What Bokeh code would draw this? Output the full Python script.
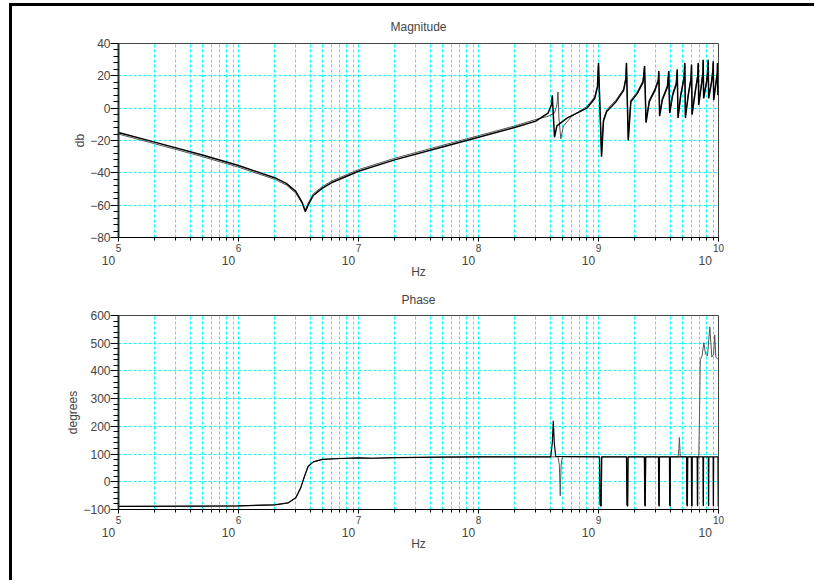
from bokeh.plotting import figure
from bokeh.models import FixedTicker, Range1d, LogAxis
from bokeh.layouts import column
from bokeh.embed import file_html
from bokeh.resources import INLINE

FONT = "Liberation Sans"
NB = "\u00a0"

# ---- x axis (log, Hz) ----
decades = [1e5, 1e6, 1e7, 1e8, 1e9, 1e10]
decade_exps = ["5", "6", "7", "8", "9", "10"]
decade_base = ["10", "10", "10", "10", "10", "10"]
minor_mult = [2, 3, 4, 5, 6, 7, 8, 9]

# ---- magnitude ticks ----
mag_yticks = [-80, -60, -40, -20, 0, 20, 40]
mag_ylabels = ["\u221280", "\u221260", "\u221240", "\u221220", "0", "20", "40"]

# ---- phase ticks ----
ph_yticks = [-100, 0, 100, 200, 300, 400, 500, 600]
ph_ylabels = ["\u2212100", "0", "100", "200", "300", "400", "500", "600"]

# ---- magnitude series A (dB) ----
mag_a_f = [1e5, 2e5, 5e5, 1e6, 2e6, 2.5e6, 3.0e6, 3.4e6, 3.6e6, 3.8e6, 4.2e6, 5e6, 6e6, 1e7, 2e7,
           5e7, 1e8, 2e8, 3e8, 3.8e8, 4.05e8, 4.12e8, 4.2e8, 4.3e8, 4.5e8, 5.5e8, 8e8,
           9.3e8, 9.8e8, 1.0e9, 1.06e9, 1.1e9, 1.17e9, 1.4e9, 1.62e9, 1.69e9, 1.71e9,
           1.77e9, 1.86e9, 2.1e9, 2.35e9, 2.42e9, 2.49e9, 2.65e9, 2.95e9, 3.15e9, 3.18e9,
           3.23e9, 3.4e9, 3.75e9, 3.85e9, 3.92e9, 4.15e9, 4.45e9, 4.53e9, 4.6e9, 4.85e9,
           5.15e9, 5.24e9, 5.3e9, 5.6e9, 5.9e9, 5.96e9, 6.02e9, 6.4e9, 6.72e9, 6.78e9,
           6.84e9, 7.2e9, 7.42e9, 7.45e9, 7.52e9, 7.95e9, 8.17e9, 8.2e9, 8.28e9, 8.75e9,
           9.0e9, 9.04e9, 9.12e9, 9.55e9, 9.78e9, 9.8e9, 9.88e9, 1e10]
mag_a_db = [-15, -21, -29, -35.5, -43, -46.5, -51.5, -58.5, -64, -60, -54, -49.5, -46, -39, -32,
            -24, -18, -12, -8, -3, 2, 8, -4, -18, -11, -6, 0,
            6, 13, 28, -30, -8, -2, 4, 11, 18, 28,
            -20, 4, 9, 16, 26, -9, 4, 11, 17, 23,
            -5, 5, 13, 23, -3, 8, 15, 24, -6, 8,
            18, 28, -6, 8, 18, 27, -4, 10, 20, 28,
            2, 14, 22, 30, 6, 16, 24, 30, 6, 16,
            24, 29, 5, 16, 22, 28, 8, 14]

# ---- magnitude series B (dB) ----
mag_b_f = [1e5, 2e5, 5e5, 1e6, 2e6, 2.5e6, 3.0e6, 3.4e6, 3.6e6, 3.8e6, 4.2e6, 5e6, 6e6, 1e7, 2e7,
           5e7, 1e8, 2e8, 3e8, 3.8e8, 4.3e8, 4.5e8, 4.6e8, 4.68e8, 4.85e8, 5.1e8, 6e8, 8e8,
           9.3e8, 9.8e8, 1.0e9, 1.06e9, 1.1e9, 1.17e9, 1.4e9, 1.62e9, 1.69e9, 1.71e9,
           1.77e9, 1.86e9, 2.1e9, 2.35e9, 2.42e9, 2.49e9, 2.65e9, 2.95e9, 3.15e9, 3.18e9,
           3.23e9, 3.4e9, 3.75e9, 3.85e9, 3.92e9, 4.15e9, 4.45e9, 4.53e9, 4.6e9, 4.85e9,
           5.15e9, 5.24e9, 5.3e9, 5.6e9, 5.9e9, 5.96e9, 6.02e9, 6.4e9, 6.72e9, 6.78e9,
           6.84e9, 7.2e9, 7.42e9, 7.45e9, 7.52e9, 7.95e9, 8.17e9, 8.2e9, 8.28e9, 8.75e9,
           9.0e9, 9.04e9, 9.12e9, 9.55e9, 9.78e9, 9.8e9, 9.88e9, 1e10]
mag_b_db = [-16, -22, -30, -36.5, -44, -47.5, -52.5, -59, -63, -59, -53, -48.5, -45, -38, -31,
            -23, -17, -11, -7, -5, -3, 2, 10, -6, -19, -11, -5, 1,
            7, 14, 27, -28, -7, -1, 5, 12, 19, 27,
            -19, 5, 10, 17, 25, -8, 5, 12, 18, 22,
            -4, 6, 14, 22, -2, 9, 16, 23, -5, 9,
            19, 27, -5, 9, 19, 26, -3, 11, 21, 27,
            3, 15, 23, 29, 7, 17, 25, 29, 7, 17,
            25, 28, 6, 17, 23, 27, 9, 15]

# ---- phase series A (degrees) ----
ph_a_f = [1e5, 5e5, 1e6, 2e6, 2.6e6, 3.0e6, 3.3e6, 3.55e6, 3.8e6, 4.2e6, 5e6, 7e6, 1e7,
          1.3e7, 2e7, 5e7, 1e8, 4.0e8, 4.12e8, 4.2e8, 4.28e8, 4.4e8,
          1.02e9, 1.03e9, 1.05e9, 1.06e9,
          1.71e9, 1.725e9, 1.745e9, 1.76e9,
          2.41e9, 2.43e9, 2.45e9, 2.47e9,
          3.16e9, 3.18e9, 3.2e9, 3.22e9,
          3.9e9, 3.92e9, 3.95e9, 3.97e9,
          5.42e9, 5.45e9, 5.5e9, 5.53e9,
          5.94e9, 5.97e9, 6.0e9, 6.03e9,
          6.64e9, 6.67e9, 6.7e9, 6.73e9,
          7.42e9, 7.45e9, 7.48e9, 7.51e9,
          8.22e9, 8.25e9, 8.28e9, 8.31e9,
          9.02e9, 9.05e9, 9.08e9, 9.11e9,
          9.9e9, 9.95e9, 1e10]
ph_a_deg = [-89, -88, -87, -83, -76, -58, -22, 20, 55, 72, 81, 84, 86,
            85, 87, 89, 90, 90, 140, 220, 140, 92,
            90, -82, -88, 90,
            90, -82, -88, 90,
            90, -82, -88, 90,
            90, -82, -88, 90,
            90, -82, -88, 90,
            90, -82, -88, 90,
            90, -82, -88, 90,
            90, -82, -88, 90,
            90, -82, -88, 90,
            90, -82, -88, 90,
            90, -82, -88, 90,
            90, -88, -88]

# ---- phase series B (degrees) ----
ph_b_f = [1e5, 5e5, 1e6, 2e6, 2.6e6, 3.0e6, 3.3e6, 3.55e6, 3.8e6, 4.2e6, 5e6, 7e6, 1e7,
          1.3e7, 2e7, 5e7, 1e8, 4.6e8, 4.72e8, 4.8e8, 4.88e8, 5.0e8,
          1.02e9, 1.035e9, 1.055e9, 1.07e9,
          1.72e9, 1.735e9, 1.755e9, 1.77e9,
          2.42e9, 2.44e9, 2.46e9, 2.48e9,
          3.17e9, 3.19e9, 3.21e9, 3.23e9,
          3.91e9, 3.93e9, 3.96e9, 3.98e9,
          4.6e9, 4.68e9, 4.72e9, 4.8e9,
          5.44e9, 5.47e9, 5.52e9, 5.55e9,
          5.96e9, 5.99e9, 6.02e9, 6.05e9,
          6.85e9, 6.95e9, 7.05e9, 7.3e9, 7.55e9, 7.8e9, 8.1e9, 8.46e9, 8.8e9,
          9.1e9, 9.3e9, 9.5e9, 1e10]
ph_b_deg = [-89, -88, -87, -83, -76, -58, -22, 20, 55, 72, 81, 84, 86,
            85, 87, 89, 90, 90, 60, -50, 60, 90,
            90, -82, -88, 90,
            90, -82, -88, 90,
            90, -82, -88, 90,
            90, -82, -88, 90,
            90, -82, -88, 90,
            90, 120, 160, 92,
            90, -82, -88, 90,
            90, -82, -88, 90,
            90, 250, 440, 455, 502, 460, 455, 559, 450,
            460, 530, 450, 440]


def make_fig(title, ylabel, y0, y1, yticks, ylabels, ystep, top, bottom, standoff):
    p = figure(x_axis_type="log", x_range=Range1d(1e5, 1e10), y_range=Range1d(y0, y1),
               frame_width=600, frame_height=194, min_border_left=106, min_border_right=92,
               min_border_top=top, min_border_bottom=bottom, title=title,
               output_backend="svg", toolbar_location=None, background_fill_color="white",
               border_fill_color="white", outline_line_color="#444444")
    p.title.align = "center"
    p.title.text_font = FONT
    p.title.text_font_size = "12px"
    p.title.text_font_style = "normal"
    p.title.standoff = standoff

    minor = [m * d for d in decades[:-1] for m in minor_mult]
    p.xaxis.ticker = FixedTicker(ticks=decades, minor_ticks=minor)
    p.xaxis.major_label_overrides = {d: e for d, e in zip(decades, decade_exps)}
    p.xaxis.major_label_text_font = FONT
    p.xaxis.major_label_text_font_size = "10px"
    p.xaxis.major_tick_out = 4
    p.xaxis.major_tick_in = 0
    p.xaxis.minor_tick_out = 3
    p.xaxis.minor_tick_in = 0
    p.xaxis.major_label_standoff = 2
    p.xaxis.axis_line_color = "black"

    # second row of the tick labels: the "10" bases, left of each tick
    pads = [6, 6, 6, 6, 6, 8]
    base_axis = LogAxis(ticker=FixedTicker(ticks=decades, minor_ticks=[]),
                        major_label_overrides={d: b + NB * n for d, b, n in zip(decades, decade_base, pads)},
                        major_label_text_font=FONT, major_label_text_font_size="12px",
                        major_label_standoff=-1, major_tick_out=0, major_tick_in=0,
                        minor_tick_out=0, minor_tick_in=0, axis_line_color=None,
                        axis_label="Hz", axis_label_text_font=FONT,
                        axis_label_text_font_size="12px", axis_label_text_font_style="normal",
                        axis_label_standoff=-6)
    p.add_layout(base_axis, "below")

    yminor = []
    for a in yticks[:-1]:
        yminor += [a + ystep * k / 5 for k in range(1, 5)]
    p.yaxis.ticker = FixedTicker(ticks=yticks, minor_ticks=yminor)
    p.yaxis.major_label_overrides = {t: l for t, l in zip(yticks, ylabels)}
    p.yaxis.major_label_text_font = FONT
    p.yaxis.major_label_text_font_size = "12px"
    p.yaxis.major_tick_out = 8
    p.yaxis.major_tick_in = 0
    p.yaxis.minor_tick_out = 5
    p.yaxis.minor_tick_in = 0
    p.yaxis.major_label_standoff = 0
    p.yaxis.axis_label = ylabel
    p.yaxis.axis_label_text_font = FONT
    p.yaxis.axis_label_text_font_size = "12px"
    p.yaxis.axis_label_text_font_style = "normal"
    p.yaxis.axis_label_standoff = 0
    p.yaxis.axis_line_width = 2
    p.yaxis.axis_line_color = "#1e3434"

    for g in (p.xgrid, p.ygrid):
        g.grid_line_color = "#00ffff"
        g.grid_line_dash = "3 2"
        g.grid_line_width = 1
    p.xgrid.minor_grid_line_color = "#00ffff"
    p.xgrid.minor_grid_line_dash = "3 2"
    return p


p1 = make_fig("Magnitude", "db", -80, 40, mag_yticks, mag_ylabels, 20, 37, 40, 19)
p1.line(mag_b_f, mag_b_db, line_color="#555555", line_width=1)
p1.line(mag_a_f, mag_a_db, line_color="black", line_width=1.5)

p2 = make_fig("Phase", "degrees", -100, 600, ph_yticks, ph_ylabels, 100, 34, 51, 17)
p2.line(ph_b_f, ph_b_deg, line_color="#555555", line_width=1)
p2.line(ph_a_f, ph_a_deg, line_color="black", line_width=1.2)

layout = column(p1, p2, spacing=0,
                styles={"border-top": "3px solid black", "border-left": "3px solid black",
                        "box-sizing": "content-box", "overflow": "hidden",
                        "margin-top": "3px", "margin-left": "9px",
                        "padding-right": "4px", "padding-bottom": "20px"})

with open("out.html", "w") as f:
    f.write(file_html(layout, INLINE))
